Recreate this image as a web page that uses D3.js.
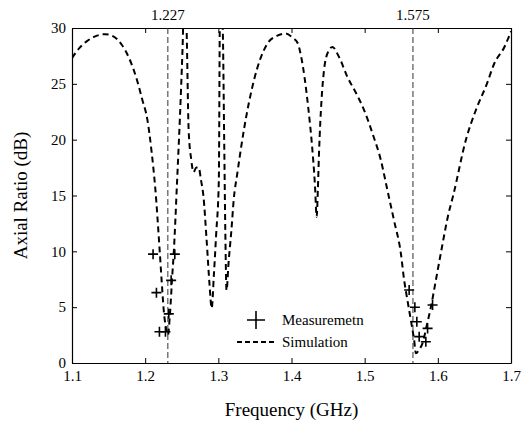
<!DOCTYPE html>
<html>
<head>
<meta charset="utf-8">
<script src="https://cdn.jsdelivr.net/npm/d3@7"></script>
<style>
  body { margin: 0; background: #fff; }
  svg text { font-family: "Liberation Serif", "DejaVu Serif", serif !important; fill: #000; }
</style>
</head>
<body>
<script>
// simulated axial ratio (GHz, dB)
var simFreq = [1.100, 1.110, 1.120, 1.130, 1.145, 1.155, 1.168, 1.180, 1.189, 1.196,
               1.203, 1.209, 1.214, 1.2195, 1.2225, 1.2254, 1.228, 1.231, 1.234, 1.237,
               1.239, 1.2437, 1.2475, 1.251, 1.2535, 1.255, 1.2566, 1.2594, 1.263, 1.266,
               1.270, 1.2733, 1.276, 1.2797, 1.284, 1.288, 1.2909, 1.294, 1.297, 1.3007,
               1.3021, 1.304, 1.306, 1.308, 1.3095, 1.3112, 1.314, 1.318, 1.321, 1.326,
               1.335, 1.3486, 1.367, 1.380, 1.392, 1.402, 1.408, 1.413, 1.418, 1.423,
               1.428, 1.432, 1.4344, 1.436, 1.4376, 1.441, 1.4444, 1.449, 1.4559, 1.465,
               1.4765, 1.488, 1.4992, 1.511, 1.522, 1.531, 1.540, 1.5494, 1.554, 1.5585,
               1.5631, 1.5676, 1.570, 1.5745, 1.579, 1.585, 1.5905, 1.597, 1.604, 1.6147,
               1.621, 1.6384, 1.652, 1.667, 1.677, 1.691, 1.700];
var simAR =   [27.3, 28.2, 28.8, 29.2, 29.45, 29.3, 28.5, 27.0, 25.3, 23.6,
               21.8, 18.8, 15.5, 10.4, 7.4, 4.7, 3.3, 2.5, 4.5, 7.8,
               9.8, 16.4, 22.0, 28.0, 33.0, 33.0, 30.0, 20.9, 18.2, 17.1,
               17.5, 17.5, 16.5, 14.9, 11.0, 7.0, 4.9, 8.0, 11.5, 16.4,
               30.5, 32.0, 30.0, 20.0, 12.0, 6.5, 9.0, 12.0, 14.6, 17.0,
               20.9, 25.3, 28.6, 29.3, 29.5, 29.1, 28.7, 27.5, 25.5, 22.8,
               19.5, 16.0, 13.1, 15.5, 18.8, 23.5, 26.2, 27.7, 28.3, 27.4,
               25.6, 24.2, 22.65, 20.5, 18.2, 15.5, 12.8, 9.85, 7.4, 5.6,
               3.85, 2.06, 0.87, 1.2, 1.76, 3.4, 5.0, 7.3, 9.8, 13.4,
               15.0, 20.0, 22.65, 25.0, 26.8, 28.3, 29.7];

// measured points
var measFreq = [1.2108, 1.2405, 1.2154, 1.2355, 1.2323, 1.2195, 1.2277,
                1.5608, 1.5686, 1.5928, 1.5713, 1.586, 1.5745, 1.5836];
var measAR =   [9.75, 9.75, 6.3, 7.4, 4.4, 2.8, 2.8,
                6.54, 4.99, 5.2, 3.7, 3.1, 2.36, 1.9];

// marker lines at the two bands
var bandPos =   [1.231, 1.566];
var bandLabel = ["1.227", "1.575"];

var xTicks = [1.1, 1.2, 1.3, 1.4, 1.5, 1.6, 1.7];
var yTicks = [0, 5, 10, 15, 20, 25, 30];
var legendLabels = ["Measuremetn", "Simulation"];

var FONT = "'Liberation Serif', 'DejaVu Serif', serif";

var W = 525, H = 426,
    margin = {top: 28, right: 14, bottom: 63, left: 72},
    width = W - margin.left - margin.right,
    height = H - margin.top - margin.bottom;

var svg = d3.select("body").append("svg")
    .attr("width", W)
    .attr("height", H)
    .attr("font-family", FONT);

svg.append("rect").attr("width", W).attr("height", H).attr("fill", "#fff");

var g = svg.append("g").attr("transform", "translate(" + margin.left + "," + margin.top + ")");

var x = d3.scaleLinear().domain([1.1, 1.7]).range([0, width]);
var y = d3.scaleLinear().domain([0, 30]).range([height, 0]);

g.append("clipPath").attr("id", "clip")
  .append("rect").attr("width", width).attr("height", height);

// axes, ticks pointing inwards on all four sides
function styleAxis(sel) {
    sel.attr("font-family", FONT);
    sel.selectAll("path").attr("stroke", "#000").attr("stroke-width", 1.2);
    sel.selectAll("line").attr("stroke", "#000").attr("stroke-width", 1);
    sel.selectAll("text").style("font-size", "15px").style("font-family", FONT).attr("fill", "#000");
}

g.append("g").attr("transform", "translate(0," + height + ")")
    .call(d3.axisBottom(x).tickValues(xTicks).tickFormat(d3.format(".1f"))
          .tickSizeInner(-5).tickSizeOuter(0).tickPadding(7))
    .call(styleAxis);
g.append("g")
    .call(d3.axisTop(x).tickValues(xTicks).tickFormat("")
          .tickSizeInner(-5).tickSizeOuter(0))
    .call(styleAxis);
g.append("g")
    .call(d3.axisLeft(y).tickValues(yTicks).tickFormat(d3.format("d"))
          .tickSizeInner(-5).tickSizeOuter(0).tickPadding(6))
    .call(styleAxis);
g.append("g").attr("transform", "translate(" + width + ",0)")
    .call(d3.axisRight(y).tickValues(yTicks).tickFormat("")
          .tickSizeInner(-5).tickSizeOuter(0))
    .call(styleAxis);

// band marker lines
bandPos.forEach(function(f, i) {
    g.append("line")
        .attr("x1", x(f)).attr("x2", x(f))
        .attr("y1", 0).attr("y2", height)
        .attr("stroke", "#333").attr("stroke-width", 1)
        .attr("stroke-dasharray", "6,3");
    g.append("text")
        .attr("x", x(f)).attr("y", -8)
        .attr("text-anchor", "middle")
        .style("font-size", "15px")
        .style("font-family", FONT)
        .text(bandLabel[i]);
});

// simulation curve
var simData = simFreq.map(function(f, i) { return [f, simAR[i]]; });
var line = d3.line()
    .x(function(d) { return x(d[0]); })
    .y(function(d) { return y(d[1]); })
    .curve(d3.curveMonotoneX);

g.append("path")
    .datum(simData)
    .attr("clip-path", "url(#clip)")
    .attr("fill", "none")
    .attr("stroke", "#000")
    .attr("stroke-width", 2)
    .attr("stroke-dasharray", "6,4")
    .attr("d", line);

// measurement crosses
function plus(cx, cy, r) {
    return "M" + (cx - r) + "," + cy + "H" + (cx + r) + "M" + cx + "," + (cy - r) + "V" + (cy + r);
}
g.selectAll(".meas")
    .data(measFreq.map(function(f, i) { return [f, measAR[i]]; }))
    .enter().append("path")
    .attr("class", "meas")
    .attr("d", function(d) { return plus(x(d[0]), y(d[1]), 5); })
    .attr("stroke", "#000")
    .attr("stroke-width", 1.6)
    .attr("fill", "none");

// legend
var lg = svg.append("g");
lg.append("path")
    .attr("d", plus(256, 320, 9))
    .attr("stroke", "#000").attr("stroke-width", 1.6);
lg.append("line")
    .attr("x1", 237).attr("x2", 275).attr("y1", 342).attr("y2", 342)
    .attr("stroke", "#000").attr("stroke-width", 2)
    .attr("stroke-dasharray", "5,3");
lg.selectAll(".lt")
    .data(legendLabels)
    .enter().append("text")
    .attr("x", 282)
    .attr("y", function(d, i) { return 325 + i * 22; })
    .style("font-size", "15px")
    .style("font-family", FONT)
    .text(function(d) { return d; });

// axis titles
svg.append("text")
    .attr("x", margin.left + width / 2).attr("y", 416)
    .attr("text-anchor", "middle")
    .style("font-size", "19px")
    .style("font-family", FONT)
    .text("Frequency (GHz)");
svg.append("text")
    .attr("transform", "translate(27," + (margin.top + height / 2) + ") rotate(-90)")
    .attr("text-anchor", "middle")
    .style("font-size", "19px")
    .style("font-family", FONT)
    .text("Axial Ratio (dB)");
</script>
</body>
</html>
